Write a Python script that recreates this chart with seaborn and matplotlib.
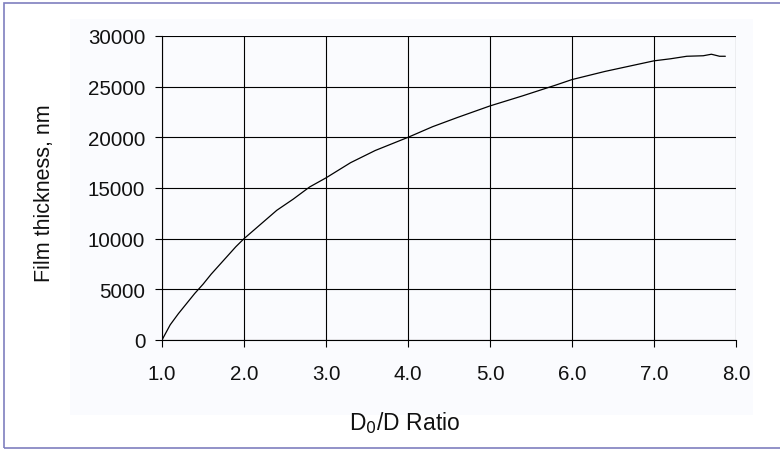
import matplotlib
matplotlib.use("Agg")
import matplotlib.pyplot as plt
from matplotlib.patches import Rectangle
import seaborn as sns
import pandas as pd

# Film thickness against diameter ratio
ratio = [1.0, 1.1, 1.2, 1.3, 1.4, 1.5, 1.6, 1.7, 1.8, 1.9, 2.0, 2.2, 2.4, 2.6,
         2.8, 3.0, 3.3, 3.6, 4.0, 4.3, 4.6, 5.0, 5.4, 5.8, 6.0, 6.4, 6.8, 7.0,
         7.2, 7.4, 7.6, 7.7, 7.8, 7.87]
thickness = [0, 1500, 2600, 3600, 4600, 5500, 6500, 7400, 8300, 9200, 10000,
             11400, 12800, 13900, 15100, 16000, 17500, 18700, 20000, 21050,
             21950, 23100, 24100, 25150, 25700, 26500, 27200, 27550, 27750,
             28000, 28050, 28200, 28000, 28000]

x_ticks = [1.0, 2.0, 3.0, 4.0, 5.0, 6.0, 7.0, 8.0]
y_ticks = [0, 5000, 10000, 15000, 20000, 25000, 30000]

sns.set_style("white")
plt.rcParams["font.family"] = ["Liberation Sans", "DejaVu Sans"]

df = pd.DataFrame({"ratio": ratio, "thickness": thickness})

fig = plt.figure(figsize=(7.8, 4.52), dpi=100)
W, H = 780, 452

# outer frame and pale panel behind the chart
fig.patches.append(Rectangle((4 / W, 3 / H), 1.0, (449 - 4) / H,
                             transform=fig.transFigure, fill=False,
                             edgecolor="#7f7fbf", linewidth=1.2, zorder=-10))
fig.patches.append(Rectangle((70 / W, 1 - 416 / H), (753 - 70) / W, (416 - 20) / H,
                             transform=fig.transFigure, facecolor="#fafbfe",
                             edgecolor="none", zorder=-10))

ax = fig.add_axes([162 / W, 1 - 341 / H, (736 - 162) / W, (341 - 37) / H])
ax.set_facecolor("none")

sns.lineplot(data=df, x="ratio", y="thickness", ax=ax, color="black",
             linewidth=0.9, zorder=3)

ax.set_xlim(1.0, 8.0)
ax.set_ylim(0, 30000)
ax.set_xticks(x_ticks)
ax.set_xticklabels([f"{v:.1f}" for v in x_ticks])
ax.set_yticks(y_ticks)
ax.set_yticklabels([str(v) for v in y_ticks])

ax.grid(True, color="black", linewidth=0.8)
ax.set_axisbelow(True)
for s in ax.spines.values():
    s.set_color("black")
    s.set_linewidth(0.8)
ax.spines["top"].set_visible(False)
ax.spines["right"].set_visible(False)

ax.tick_params(axis="both", which="major", length=5, width=0.8,
               color="black", labelsize=14.8, labelcolor="#111111",
               bottom=True, left=True, direction="out")
ax.tick_params(axis="y", pad=7)
ax.tick_params(axis="x", pad=12)

ax.set_xlabel("")
ax.set_ylabel("")
fig.text(45 / W, 1 - 193 / H, "Film thickness, nm", rotation=90,
         ha="center", va="center", fontsize=15.5, color="#111111")
fig.text(405 / W, 1 - 423 / H, r"D$_0$/D Ratio", ha="center", va="center",
         fontsize=16.5, color="#111111")

fig.savefig("out.png", dpi=100)
